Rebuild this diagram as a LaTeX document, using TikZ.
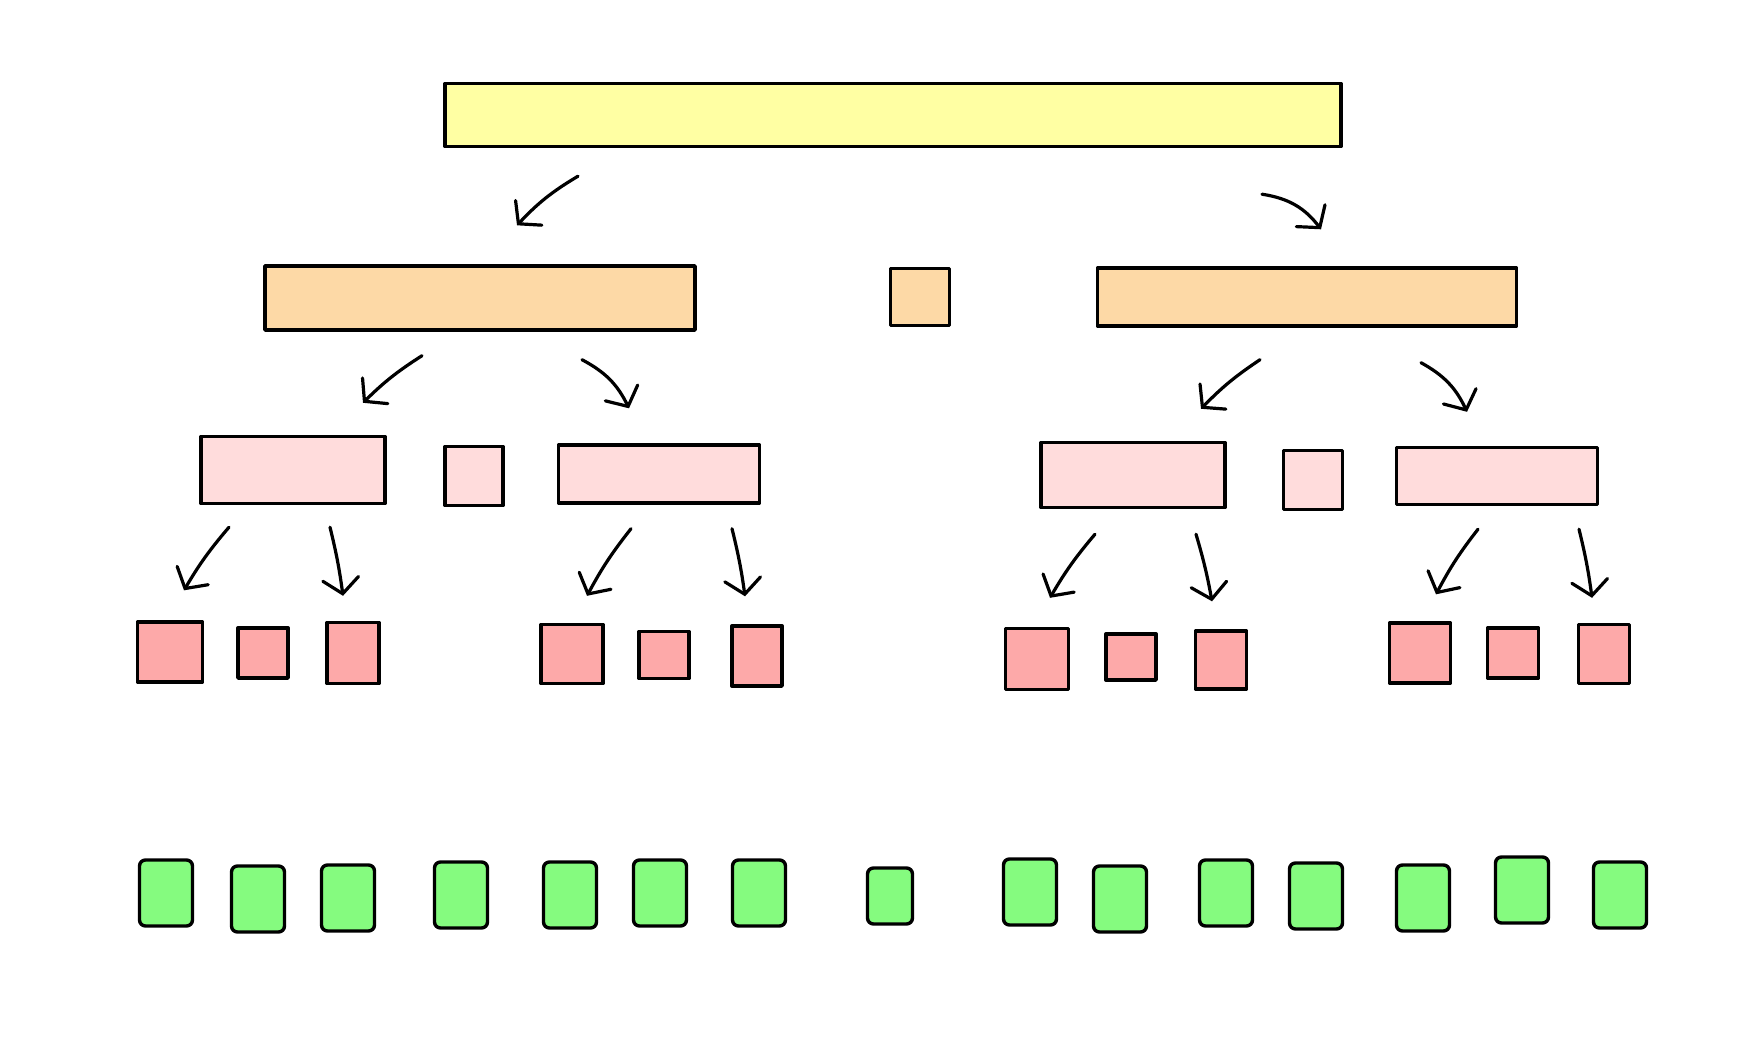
\documentclass[tikz,border=0pt]{standalone}
\usepackage{tikz}
\usetikzlibrary{shapes,arrows.meta,positioning}
\usepackage{xcolor}
\definecolor{fillyellow}{HTML}{FFFFA3}
\definecolor{fillorange}{HTML}{FDD9A6}
\definecolor{fillpink}{HTML}{FFDCDC}
\definecolor{fillred}{HTML}{FDA9A9}
\definecolor{fillgreen}{HTML}{85FB7F}

\begin{document}
\begin{tikzpicture}[x=1pt,y=1pt]
      \tikzstyle{box} = [rectangle, draw, line width=3.4pt, line cap=round, line join=round, inner sep=0pt]
      \tikzstyle{whole} = [box, fill=fillyellow]
      \tikzstyle{half} = [box, fill=fillorange]
      \tikzstyle{quarter} = [box, fill=fillpink]
      \tikzstyle{leaf} = [box, fill=fillred]
      \tikzstyle{done} = [box, fill=fillgreen, rounded corners=6pt, minimum width=53pt, minimum height=66pt]
      \tikzstyle{arr} = [-{Straight Barb[length=15pt,width=36pt,line cap=round]}, line width=3.2pt, line cap=round]

      \useasboundingbox (0,0) rectangle (1752,-1038);

      \node[whole, minimum width=896pt, minimum height=63pt] (all) at (893,-115) {};

      \node[half, minimum width=430pt, minimum height=64pt] (l) at (480,-298) {};
      \node[half, minimum width=59pt, minimum height=57pt] (pv) at (920,-297) {};
      \node[half, minimum width=419pt, minimum height=58pt] (r) at (1307,-297) {};

      \node[quarter, minimum width=184pt, minimum height=67pt] (ll) at (293,-470) {};
      \node[quarter, minimum width=58pt, minimum height=59pt] (lp) at (474,-476) {};
      \node[quarter, minimum width=201pt, minimum height=58pt] (lr) at (659,-474) {};
      \node[quarter, minimum width=184pt, minimum height=65pt] (rl) at (1133,-475) {};
      \node[quarter, minimum width=59pt, minimum height=59pt] (rp) at (1313,-480) {};
      \node[quarter, minimum width=201pt, minimum height=57pt] (rr) at (1497,-476) {};

      \node[leaf, minimum width=65pt, minimum height=60pt] (ll1) at (170,-652) {};
      \node[leaf, minimum width=50pt, minimum height=50pt] (ll2) at (263,-653) {};
      \node[leaf, minimum width=52pt, minimum height=61pt] (ll3) at (353,-653) {};
      \node[leaf, minimum width=62pt, minimum height=59pt] (lr1) at (572,-654) {};
      \node[leaf, minimum width=50pt, minimum height=47pt] (lr2) at (664,-655) {};
      \node[leaf, minimum width=50pt, minimum height=60pt] (lr3) at (757,-656) {};
      \node[leaf, minimum width=63pt, minimum height=61pt] (rl1) at (1037,-659) {};
      \node[leaf, minimum width=50pt, minimum height=46pt] (rl2) at (1131,-657) {};
      \node[leaf, minimum width=51pt, minimum height=58pt] (rl3) at (1221,-660) {};
      \node[leaf, minimum width=61pt, minimum height=60pt] (rr1) at (1420,-653) {};
      \node[leaf, minimum width=51pt, minimum height=50pt] (rr2) at (1513,-653) {};
      \node[leaf, minimum width=51pt, minimum height=59pt] (rr3) at (1604,-654) {};

      \node[done] (g1) at (166,-893) {};
      \node[done] (g2) at (258,-899) {};
      \node[done] (g3) at (348,-898) {};
      \node[done] (g4) at (461,-895) {};
      \node[done] (g5) at (570,-895) {};
      \node[done] (g6) at (660,-893) {};
      \node[done] (g7) at (759,-893) {};
      \node[done, minimum width=45pt, minimum height=56pt] (g8) at (890,-896) {};
      \node[done] (g9) at (1030,-892) {};
      \node[done] (g10) at (1120,-899) {};
      \node[done] (g11) at (1226,-893) {};
      \node[done] (g12) at (1316,-896) {};
      \node[done] (g13) at (1423,-898) {};
      \node[done] (g14) at (1522,-890) {};
      \node[done] (g15) at (1620,-895) {};

      \draw[arr] ([shift={(-315,-28)}]all.south) to[bend right=8] ([shift={(37,39)}]l.north);
      \draw[arr] ([shift={(369,-46)}]all.south) to[bend left=22] ([shift={(14,37)}]r.north);

      \draw[arr] ([shift={(-58,-24)}]l.south) to[bend right=6] ([shift={(70,32)}]ll.north);
      \draw[arr] ([shift={(102,-28)}]l.south) to[bend left=18] ([shift={(-30,35)}]lr.north);
      \draw[arr] ([shift={(-47,-32)}]r.south) to[bend right=6] ([shift={(68,32)}]rl.north);
      \draw[arr] ([shift={(114,-35)}]r.south) to[bend left=18] ([shift={(-30,34)}]rr.north);

      \draw[arr] ([shift={(-64,-22)}]ll.south) to[bend right=5] ([shift={(14,30)}]ll1.north);
      \draw[arr] ([shift={(37,-22)}]ll.south) to[bend left=3] ([shift={(-10,25)}]ll3.north);
      \draw[arr] ([shift={(-28,-24)}]lr.south) to[bend right=5] ([shift={(15,27)}]lr1.north);
      \draw[arr] ([shift={(73,-24)}]lr.south) to[bend left=3] ([shift={(-12,28)}]lr3.north);
      \draw[arr] ([shift={(-38,-25)}]rl.south) to[bend right=5] ([shift={(13,29)}]rl1.north);
      \draw[arr] ([shift={(63,-25)}]rl.south) to[bend left=3] ([shift={(-9,28)}]rl3.north);
      \draw[arr] ([shift={(-19,-23)}]rr.south) to[bend right=5] ([shift={(16,27)}]rr1.north);
      \draw[arr] ([shift={(82,-23)}]rr.south) to[bend left=3] ([shift={(-12,25)}]rr3.north);
\end{tikzpicture}
\end{document}
